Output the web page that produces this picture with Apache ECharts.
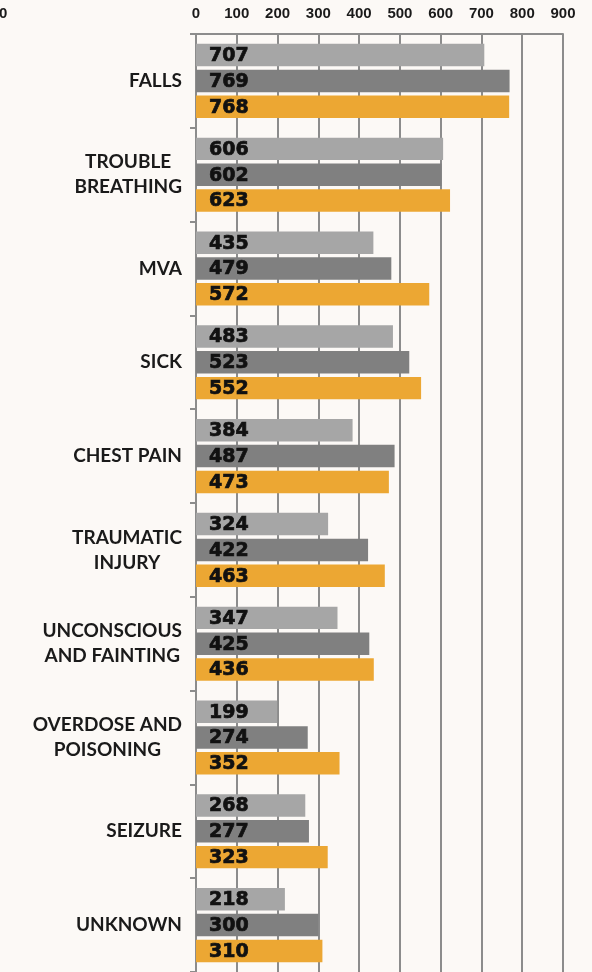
<!DOCTYPE html>
<html>
<head>
<meta charset="utf-8">
<script src="https://cdn.jsdelivr.net/npm/echarts@6/dist/echarts.min.js"></script>
<style>
  html, body { margin: 0; padding: 0; background: #fcf9f6; }
  #chart { width: 592px; height: 972px; }
</style>
</head>
<body>
<div id="chart"></div>
<script>
// call types, top to bottom
var categories = ['FALLS', 'TROUBLE\nBREATHING', 'MVA', 'SICK', 'CHEST PAIN',
    'TRAUMATIC\nINJURY', 'UNCONSCIOUS\nAND FAINTING', 'OVERDOSE AND\nPOISONING', 'SEIZURE', 'UNKNOWN'];
var xTicks = [0, 100, 200, 300, 400, 500, 600, 700, 800, 900];

// three series, light gray / dark gray / orange
var seriesA = [707, 606, 435, 483, 384, 324, 347, 199, 268, 218];
var seriesB = [769, 602, 479, 523, 487, 422, 425, 274, 277, 300];
var seriesC = [768, 623, 572, 552, 473, 463, 436, 352, 323, 310];

var colors = ['#a6a6a6', '#808080', '#eca733'];
var lineGray = '#8c8c8c';

var chart = echarts.init(document.getElementById('chart'));

function barSeries(name, data, color) {
    return {
        name: name,
        type: 'bar',
        data: data,
        barGap: '15%',
        barCategoryGap: '21%',
        itemStyle: { color: color },
        label: {
            show: true,
            position: 'insideLeft',
            distance: 13,
            offset: [0, 1],
            color: '#111',
            fontFamily: 'DejaVu Sans',
            fontWeight: 'bold',
            fontSize: 19,
            textBorderColor: '#111',
            textBorderWidth: 0.7
        }
    };
}

var option = {
    backgroundColor: '#fcf9f6',
    animation: false,
    grid: { left: 196, right: 29, top: 34, height: 945, containLabel: false },
    xAxis: {
        type: 'value',
        position: 'top',
        min: xTicks[0],
        max: xTicks[xTicks.length - 1],
        interval: 100,
        axisLine: { show: true, lineStyle: { color: lineGray, width: 2 } },
        axisTick: { show: false },
        splitLine: { show: true, lineStyle: { color: lineGray, width: 2 } },
        axisLabel: {
            margin: 13,
            color: '#1a1a1a',
            fontFamily: 'Liberation Sans',
            fontWeight: 'bold',
            fontSize: 15
        }
    },
    yAxis: {
        type: 'category',
        inverse: true,
        data: categories,
        axisLine: { show: true, lineStyle: { color: lineGray, width: 2 } },
        axisTick: { show: true, length: 6, lineStyle: { color: lineGray, width: 2 } },
        axisLabel: {
            margin: 14,
            align: 'right',
            formatter: function (v) {
                return v.split('\n').map(function (s) { return '{c|' + s + '}'; }).join('\n');
            },
            rich: {
                c: {
                    align: 'center',
                    color: '#1a1a1a',
                    fontFamily: 'Lato',
                    fontWeight: 'bold',
                    fontSize: 19,
                    lineHeight: 25
                }
            }
        }
    },
    graphic: [{
        type: 'text',
        left: -1,
        top: 6,
        style: { text: '0', fill: '#1a1a1a', font: 'bold 15px "Liberation Sans"' }
    }],
    series: [
        barSeries('A', seriesA, colors[0]),
        barSeries('B', seriesB, colors[1]),
        barSeries('C', seriesC, colors[2])
    ]
};

chart.setOption(option);
</script>
</body>
</html>
